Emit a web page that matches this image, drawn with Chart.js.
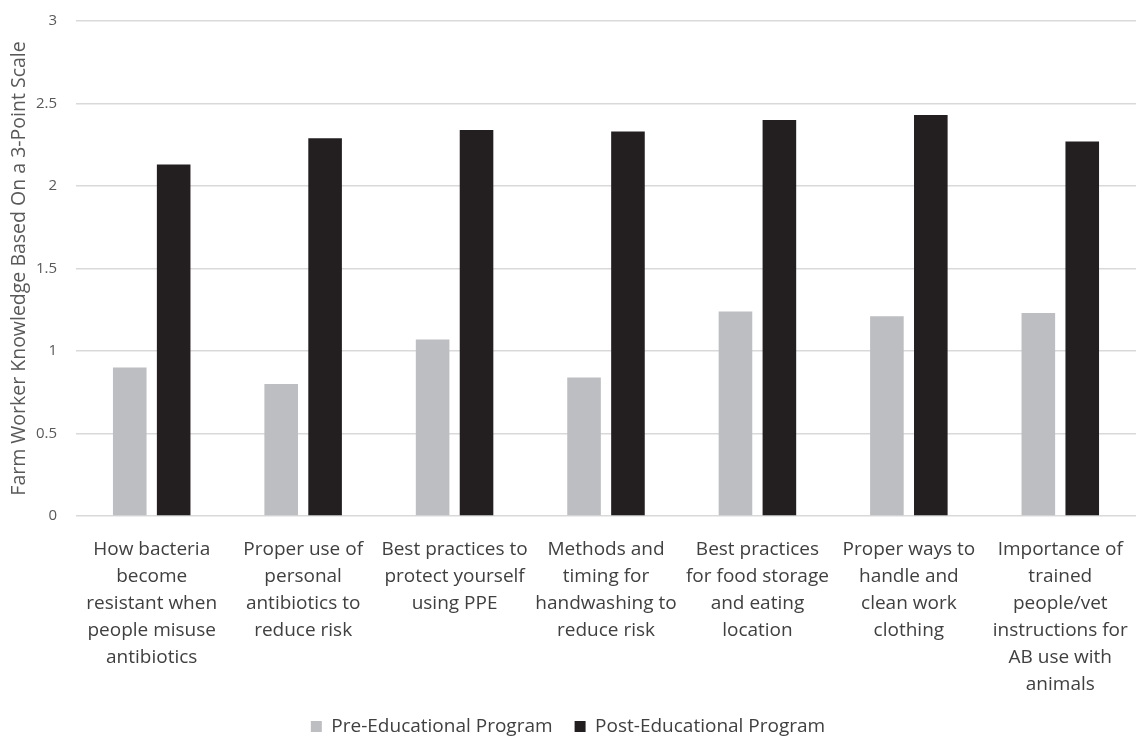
<!DOCTYPE html>
<html>
<head>
<meta charset="utf-8">
<script src="https://cdn.jsdelivr.net/npm/chart.js@4/dist/chart.umd.min.js"></script>
<style>
  html, body { margin: 0; padding: 0; background: #ffffff; }
  #wrap { width: 1139px; height: 736px; position: relative; }
</style>
</head>
<body>
<div id="wrap"><canvas id="c" width="1139" height="736"></canvas></div>
<script>
// Knowledge topics (multi-line category labels)
const categories = [
  ["How bacteria", "become", "resistant when", "people misuse", "antibiotics"],
  ["Proper use of", "personal", "antibiotics to", "reduce risk"],
  ["Best practices to", "protect yourself", "using PPE"],
  ["Methods and", "timing for", "handwashing to", "reduce risk"],
  ["Best practices", "for food storage", "and eating", "location"],
  ["Proper ways to", "handle and", "clean work", "clothing"],
  ["Importance of", "trained", "people/vet", "instructions for", "AB use with", "animals"]
];

// Mean scores on a 3-point scale
const preProgram  = [0.90, 0.80, 1.07, 0.84, 1.24, 1.21, 1.23];
const postProgram = [2.13, 2.29, 2.34, 2.33, 2.40, 2.43, 2.27];

const seriesNames = ["Pre-Educational Program", "Post-Educational Program"];
const yTicks = [0, 0.5, 1, 1.5, 2, 2.5, 3];
const yTickLabels = ["0", "0.5", "1", "1.5", "2", "2.5", "3"];
const yTitle = "Farm Worker Knowledge Based On a 3-Point Scale";

const FONT = "'Open Sans', sans-serif";
const PLOT_LEFT = 76, PLOT_TOP = 21, PLOT_BOTTOM = 516, H = 736, PAD_BOTTOM = -10;

new Chart(document.getElementById('c'), {
  type: 'bar',
  data: {
    labels: categories,
    datasets: [
      { label: seriesNames[0], data: preProgram, backgroundColor: '#bdbec2',
        categoryPercentage: 0.58, barPercentage: 0.765 },
      { label: seriesNames[1], data: postProgram, backgroundColor: '#231f20',
        categoryPercentage: 0.58, barPercentage: 0.765 }
    ]
  },
  options: {
    responsive: false,
    animation: false,
    devicePixelRatio: 1,
    layout: { padding: { top: PLOT_TOP, right: 3, bottom: PAD_BOTTOM, left: 0 } },
    plugins: {
      tooltip: { enabled: false },
      legend: {
        position: 'bottom',
        labels: {
          boxWidth: 11, boxHeight: 11, padding: 22,
          color: '#404040',
          font: { family: FONT, size: 19 }
        }
      }
    },
    scales: {
      x: {
        grid: { display: false, drawTicks: false },
        border: { display: false },
        ticks: {
          color: '#404040',
          padding: 20,
          maxRotation: 0, minRotation: 0, autoSkip: false,
          font: { family: FONT, size: 19, lineHeight: 27 / 19 }
        },
        afterFit(scale) {
          const lg = scale.chart.legend;
          const lh = lg ? lg.height : 0;
          scale.height = H - PLOT_BOTTOM - lh - PAD_BOTTOM;
          scale.paddingLeft = 0;
          scale.paddingRight = 0;
        }
      },
      y: {
        min: 0, max: 3,
        afterBuildTicks(scale) { scale.ticks = yTicks.map(v => ({ value: v })); },
        grid: { color: '#d9d9d9', lineWidth: 1.5, drawTicks: false },
        border: { display: false },
        ticks: {
          color: '#595959',
          padding: 19,
          font: { family: FONT, size: 15 },
          callback: (v, i) => yTickLabels[i]
        },
        title: {
          display: true,
          text: yTitle,
          color: '#595959',
          padding: { top: 8, bottom: 0 },
          font: { family: FONT, size: 19.5 }
        },
        afterFit(scale) {
          scale.width = PLOT_LEFT;
          scale.paddingTop = 0;
          scale.paddingBottom = 0;
        }
      }
    }
  }
});
</script>
</body>
</html>
